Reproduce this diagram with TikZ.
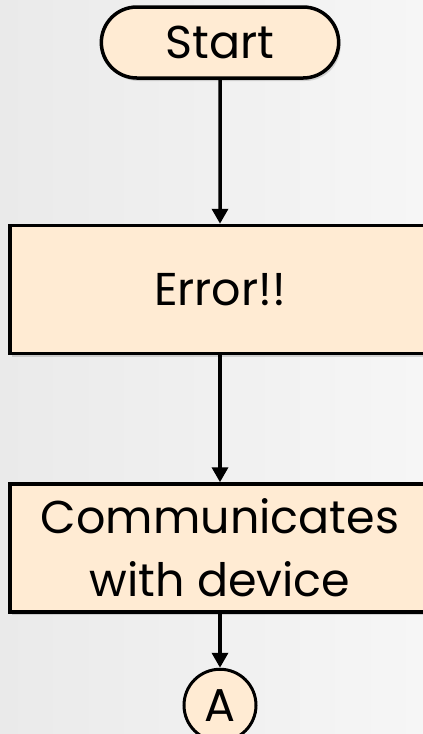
\documentclass[tikz,border=0pt]{standalone}
\usepackage{fontspec}
\setmainfont{Poppins}
\usetikzlibrary{shapes.misc,arrows.meta,positioning,shadows}

\definecolor{boxfill}{RGB}{255,235,211}
\definecolor{bgleft}{RGB}{234,234,234}
\definecolor{bgright}{RGB}{246,246,246}

\tikzset{
  boxshadow/.style={drop shadow={shadow xshift=2pt, shadow yshift=-3pt, opacity=.3}},
  startstop/.style={rounded rectangle, draw, line width=3.5pt, fill=boxfill, boxshadow,
    minimum width=244pt, minimum height=71pt},
  process/.style={rectangle, draw, line width=3.5pt, fill=boxfill, boxshadow, align=center,
    minimum width=420pt, minimum height=128pt},
  connector/.style={circle, draw, line width=3pt, fill=boxfill, minimum size=72pt, inner sep=0pt},
  flow/.style={line width=3.5pt, -{Triangle[width=16pt,length=15pt]}}
}

\begin{document}
\begin{tikzpicture}[font=\fontsize{46}{63}\selectfont]
  % page area with a soft grey background
  \useasboundingbox (0,0) rectangle (423pt,-734pt);
  \fill[left color=bgleft, right color=bgright] (0,0) rectangle (423pt,-734pt);

  \node (start) [startstop] at (220pt,-42.5pt) {Start};
  \node (error) [process, below=144pt of start] {Error!!};
  \node (comm) [process, below=127pt of error] {Communicates\\with device};
  \node (conA) [connector, below=54pt of comm] {A};

  \draw [flow] (start) -- (error);
  \draw [flow] (error) -- (comm);
  \draw [flow] (comm) -- (conA);
\end{tikzpicture}
\end{document}
